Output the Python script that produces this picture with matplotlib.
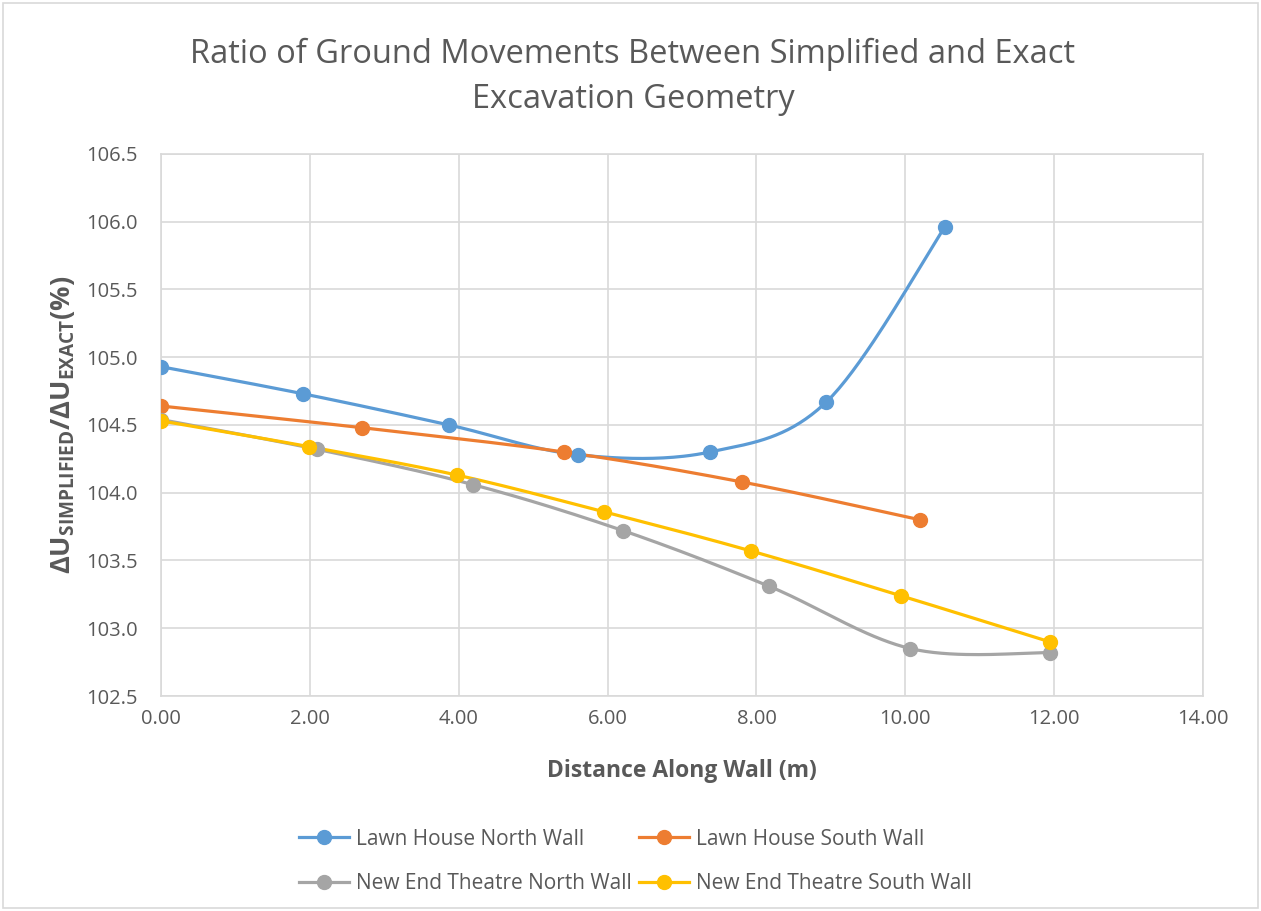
import numpy as np
import matplotlib
matplotlib.use("Agg")
import matplotlib.pyplot as plt
from matplotlib.patches import Rectangle

plt.rcParams["font.family"] = ["Open Sans", "DejaVu Sans"]
plt.rcParams["mathtext.fontset"] = "custom"
plt.rcParams["mathtext.rm"] = "Open Sans"
plt.rcParams["mathtext.bf"] = "Open Sans:bold"
plt.rcParams["mathtext.default"] = "bf"

# ── Data ──────────────────────────────────────────────────────────────────────
lh_north_x = [0.00, 1.91, 3.87, 5.60, 7.37, 8.94, 10.53]
lh_north_y = [104.93, 104.73, 104.50, 104.28, 104.30, 104.67, 105.96]

lh_south_x = [0.00, 2.70, 5.42, 7.80, 10.20]
lh_south_y = [104.64, 104.48, 104.30, 104.08, 103.80]

net_north_x = [0.00, 2.10, 4.19, 6.21, 8.17, 10.07, 11.94]
net_north_y = [104.54, 104.32, 104.06, 103.72, 103.31, 102.85, 102.82]

net_south_x = [0.00, 1.99, 3.98, 5.95, 7.93, 9.94, 11.94]
net_south_y = [104.53, 104.34, 104.13, 103.86, 103.57, 103.24, 102.90]

series_names = ["Lawn House North Wall", "Lawn House South Wall",
                "New End Theatre North Wall", "New End Theatre South Wall"]
series_colors = ["#5B9BD5", "#ED7D31", "#A5A5A5", "#FFC000"]


def smooth(xs, ys, n=40):
    # Excel-style smoothed line: cubic Bezier with Catmull-Rom control points
    p = np.column_stack([xs, ys]).astype(float)
    ext = np.vstack([p[0], p, p[-1]])
    out = [p[:1]]
    t = np.linspace(0, 1, n)[1:, None]
    for i in range(len(p) - 1):
        p0, p1, p2, p3 = ext[i], ext[i + 1], ext[i + 2], ext[i + 3]
        c1 = p1 + (p2 - p0) / 6
        c2 = p2 - (p3 - p1) / 6
        seg = ((1 - t) ** 3) * p1 + 3 * ((1 - t) ** 2) * t * c1 \
            + 3 * (1 - t) * t ** 2 * c2 + t ** 3 * p2
        out.append(seg)
    c = np.vstack(out)
    return c[:, 0], c[:, 1]


fig = plt.figure(figsize=(12.61, 9.11), dpi=100)
ax = fig.add_axes([0.1277, 0.236, 0.8263, 0.595])

txt = "#595959"
all_series = [(lh_north_x, lh_north_y), (lh_south_x, lh_south_y),
              (net_north_x, net_north_y), (net_south_x, net_south_y)]
handles = []
for (xs, ys), name, col in zip(all_series, series_names, series_colors):
    sx, sy = smooth(xs, ys)
    ax.plot(sx, sy, color=col, lw=2.3, zorder=3, solid_capstyle="round")
    ax.plot(xs, ys, "o", color=col, ms=10, zorder=4)
    h, = ax.plot([], [], "-o", color=col, lw=2.3, ms=10, label=name)
    handles.append(h)

ax.set_xlim(0, 14)
ax.set_ylim(102.5, 106.5)
ax.set_xticks(np.arange(0, 14.01, 2))
ax.set_xticklabels([f"{v:.2f}" for v in np.arange(0, 14.01, 2)])
ax.set_yticks(np.arange(102.5, 106.51, 0.5))
ax.set_yticklabels([f"{v:.1f}" for v in np.arange(102.5, 106.51, 0.5)])
ax.tick_params(length=0, labelsize=14.5, colors=txt)
ax.tick_params(axis="y", pad=17)
ax.tick_params(axis="x", pad=9)
ax.grid(True, color="#D9D9D9", lw=1.2)
ax.set_axisbelow(True)
for s in ax.spines.values():
    s.set_color("#D9D9D9")
    s.set_linewidth(1.2)

ax.set_xlabel("Distance Along Wall (m)", fontsize=16.5, fontweight="bold",
              color=txt, labelpad=22)
ax.set_ylabel(r"$\Delta$U$_{SIMPLIFIED}$/$\Delta$U$_{EXACT}$(%)", fontsize=19.5,
              fontweight="bold", color=txt, labelpad=6)

fig.text(0.502, 0.916, "Ratio of Ground Movements Between Simplified and Exact\nExcavation Geometry",
         ha="center", va="center", fontsize=23.5, color=txt, linespacing=1.48)

order = [0, 2, 1, 3]
leg = fig.legend([handles[i] for i in order], [series_names[i] for i in order],
                 loc="center", bbox_to_anchor=(0.504, 0.0545), ncol=2,
                 frameon=False, fontsize=15, labelcolor=txt, handlelength=2.4,
                 handletextpad=0.35, columnspacing=0.35, labelspacing=1.12)

fig.patches.append(Rectangle((0.002, 0.003), 0.996, 0.994, transform=fig.transFigure,
                             fill=False, edgecolor="#D9D9D9", lw=1.2))

fig.savefig("out.png", dpi=100)
